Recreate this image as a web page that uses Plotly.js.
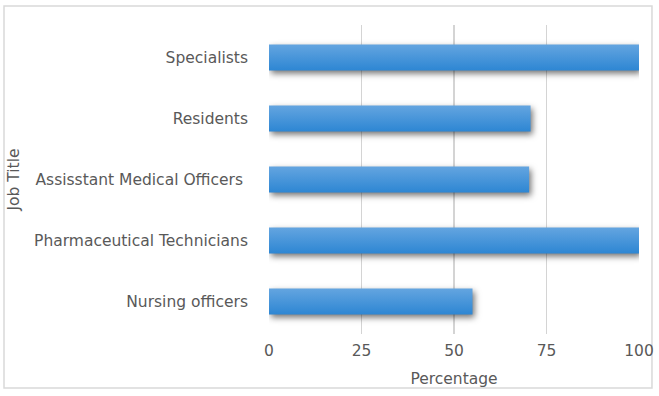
<!DOCTYPE html>
<html>
<head>
<meta charset="utf-8">
<script src="https://cdn.plot.ly/plotly-3.0.1.min.js"></script>
<style>
  html, body { margin: 0; padding: 0; background: #fff; }
  #chart { width: 659px; height: 396px; }
  #chart g.point path {
    fill: url(#barGrad) !important;
    filter: drop-shadow(2px 3px 3px rgba(0,0,0,0.55));
  }
</style>
</head>
<body>
<svg width="2" height="2" style="position:absolute; left:-10px; top:-10px">
  <defs>
    <linearGradient id="barGrad" x1="0" y1="0" x2="0" y2="1">
      <stop offset="0" stop-color="#64a5e0"/>
      <stop offset="1" stop-color="#2d86d3"/>
    </linearGradient>
  </defs>
</svg>
<div id="chart"></div>
<script>
const categories = ["Nursing officers", "Pharmaceutical Technicians", "Assisstant Medical Officers ", "Residents", "Specialists"];
const percentages = [55, 100, 70.3, 70.7, 100];
const xTickValues = [0, 25, 50, 75, 100];

const textColor = "#595959";
const gridColor = "#d4d4d4";
const fontFamily = "DejaVu Sans, sans-serif";
const fontSize = 15.5;

const trace = {
  type: "bar",
  orientation: "h",
  y: categories,
  x: percentages,
  width: 0.43,
  marker: { color: "#3a8dd8", line: { width: 0 } },
  hoverinfo: "x+y"
};

const layout = {
  width: 659,
  height: 396,
  margin: { l: 269, r: 20, t: 25, b: 62, pad: 0 },
  paper_bgcolor: "#ffffff",
  plot_bgcolor: "#ffffff",
  font: { family: fontFamily, size: fontSize, color: textColor },
  showlegend: false,
  xaxis: {
    range: [0, 100],
    tickvals: xTickValues,
    ticktext: xTickValues.map(String),
    showgrid: true,
    gridcolor: gridColor,
    gridwidth: 1.6,
    zeroline: false,
    showline: false,
    ticks: "",
    ticklabelstandoff: 5,
    tickfont: { family: fontFamily, size: fontSize, color: textColor },
    title: { text: "Percentage", font: { family: fontFamily, size: fontSize, color: textColor }, standoff: 14 },
    fixedrange: true
  },
  yaxis: {
    type: "category",
    range: [-0.533, 4.533],
    showgrid: false,
    zeroline: false,
    showline: false,
    ticks: "",
    ticklabelstandoff: 20,
    tickfont: { family: fontFamily, size: fontSize, color: textColor },
    title: { text: "Job Title", font: { family: fontFamily, size: fontSize, color: textColor }, standoff: 10 },
    fixedrange: true
  },
  shapes: [{
    type: "rect",
    xref: "paper", yref: "paper",
    x0: -0.7162, x1: 1.0351,
    y0: -0.1748, y1: 1.0615,
    line: { color: "#d9d9d9", width: 1.5 },
    fillcolor: "rgba(0,0,0,0)",
    layer: "below"
  }]
};

Plotly.newPlot("chart", [trace], layout, { displayModeBar: false, staticPlot: true });
</script>
</body>
</html>
